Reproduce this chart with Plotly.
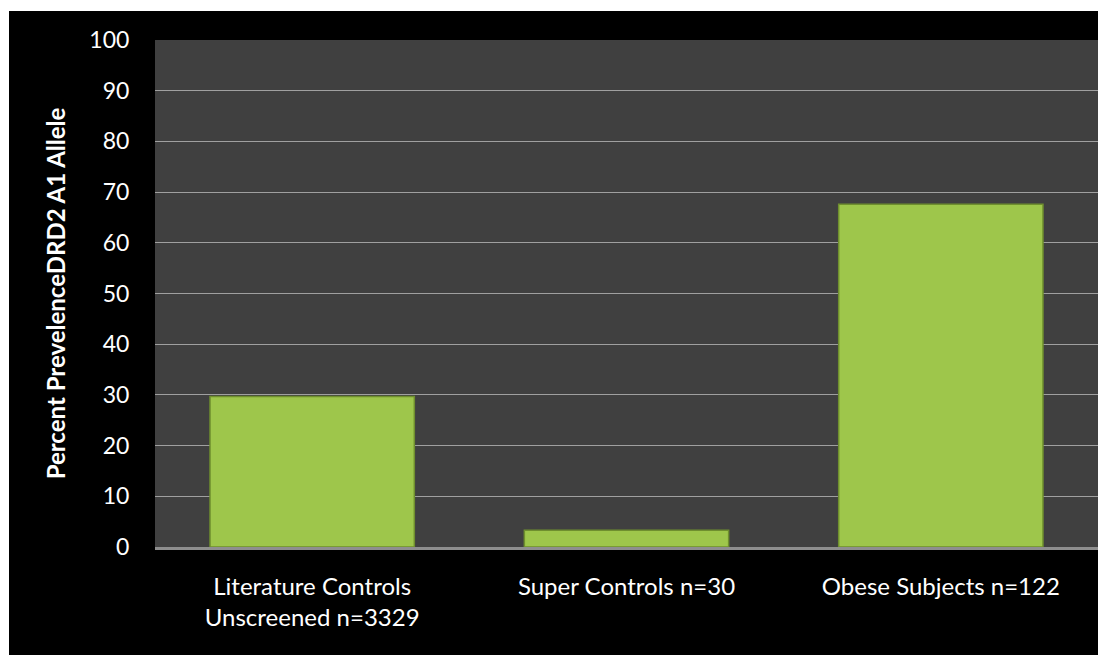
import plotly.graph_objects as go

categories = ["Literature Controls<br>Unscreened n=3329", "Super Controls n=30", "Obese Subjects n=122"]
values = [29.7, 3.3, 67.6]
y_ticks = [0, 10, 20, 30, 40, 50, 60, 70, 80, 90, 100]
y_title = "Percent PrevelenceDRD2 A1 Allele"

# page is offset by the 8px body margin
W, H = 1090, 647
L, R, T, B = 147, 0, 32, 108
pw = W - L - R
ph = H - T - B

def px_x(px):
    return (px - L) / pw

def px_y(py):
    return (H - B - py) / ph

fig = go.Figure()
fig.add_trace(go.Bar(
    x=categories, y=values, width=0.65,
    marker=dict(color="#9ec64b", line=dict(color="#6f8f2e", width=1.5)),
    hoverinfo="x+y",
))

fig.update_layout(
    width=W, height=H,
    margin=dict(l=L, r=R, t=T, b=B, pad=0),
    paper_bgcolor="#000000",
    plot_bgcolor="#404040",
    showlegend=False,
    font=dict(family="Lato, 'Open Sans', sans-serif", color="#ffffff"),
    xaxis=dict(
        showgrid=False, showline=True, linecolor="#8e8e8e", linewidth=3,
        ticks="outside", ticklen=16, tickcolor="rgba(0,0,0,0)",
        tickfont=dict(size=24, color="#ffffff"),
    ),
    yaxis=dict(
        range=[0, 100], tickvals=y_ticks, showgrid=True, gridcolor="#a0a0a0", gridwidth=1,
        zeroline=False, showline=False,
        ticks="outside", ticklen=20, tickcolor="rgba(0,0,0,0)",
        tickfont=dict(size=23, color="#ffffff"),
        title=dict(text=y_title, font=dict(size=24, color="#ffffff", weight="bold"), standoff=16),
    ),
    shapes=[
        dict(type="rect", xref="paper", yref="paper", x0=px_x(0), x1=px_x(1), y0=px_y(H), y1=px_y(0),
             fillcolor="#ffffff", line=dict(width=0), layer="above"),
        dict(type="rect", xref="paper", yref="paper", x0=px_x(0), x1=px_x(W), y0=px_y(3), y1=px_y(0),
             fillcolor="#ffffff", line=dict(width=0), layer="above"),
    ],
)

fig.write_html("out.html")
